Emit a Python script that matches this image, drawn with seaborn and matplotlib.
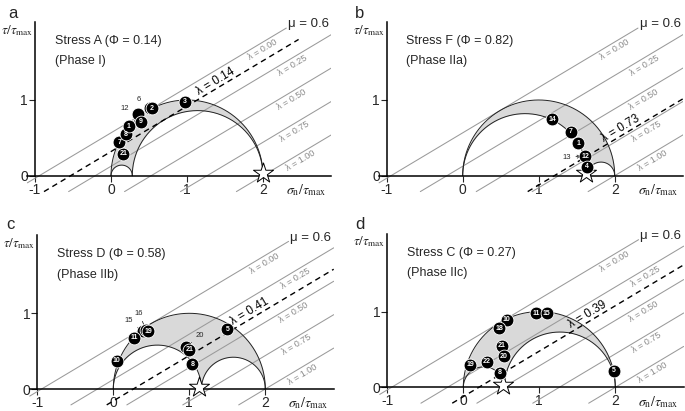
import numpy as np
import matplotlib
matplotlib.use('Agg')
import matplotlib.pyplot as plt
import matplotlib.transforms as mtransforms
import seaborn as sns

sns.set_style('white')
plt.rcParams['font.family'] = ['Liberation Sans', 'DejaVu Sans']
plt.rcParams['mathtext.fontset'] = 'stix'

# ---- data ----
panel_letters = ['a', 'b', 'c', 'd']
stress_names = ['Stress A (Φ = 0.14)', 'Stress F (Φ = 0.82)',
                'Stress D (Φ = 0.58)', 'Stress C (Φ = 0.27)']
phase_names = ['(Phase I)', '(Phase IIa)', '(Phase IIb)', '(Phase IIc)']
phi_values = [0.14, 0.82, 0.58, 0.27]
star_x = [2.0, 1.62, 1.13, 0.52]
best_lambda = [0.14, 0.73, 0.41, 0.39]

mu = 0.6
lambda_levels = [0.0, 0.25, 0.5, 0.75, 1.0]
lambda_text = ['λ = 0.00', 'λ = 0.25', 'λ = 0.50', 'λ = 0.75', 'λ = 1.00']

# numbered fault points (sigma_n/tau_max, tau/tau_max)
a_ids = ['12', '6', '21', '7', '8', '1', '9', '2', '3']
a_x = [0.36, 0.51, 0.16, 0.11, 0.20, 0.235, 0.39, 0.54, 0.97]
a_y = [0.82, 0.89, 0.29, 0.44, 0.55, 0.65, 0.71, 0.89, 0.98]

b_ids = ['14', '7', '1', '12', '4']
b_x = [1.18, 1.42, 1.52, 1.61, 1.63]
b_y = [0.745, 0.58, 0.43, 0.26, 0.12]

c_ids = ['15', '16', '10', '11', '19', '5', '20', '21', '8']
c_x = [0.39, 0.43, 0.045, 0.27, 0.46, 1.50, 0.96, 1.00, 1.04]
c_y = [0.76, 0.78, 0.37, 0.68, 0.76, 0.79, 0.56, 0.52, 0.33]

d_ids = ['11', '15', '10', '18', '21', '20', '22', '19', '8', '5']
d_x = [0.96, 1.10, 0.57, 0.475, 0.51, 0.53, 0.31, 0.09, 0.48, 1.98]
d_y = [0.98, 0.98, 0.89, 0.78, 0.55, 0.41, 0.34, 0.30, 0.19, 0.22]

point_ids = [a_ids, b_ids, c_ids, d_ids]
point_x = [a_x, b_x, c_x, d_x]
point_y = [a_y, b_y, c_y, d_y]

# points hidden below others, labelled with a leader line instead
hidden = [['12', '6'], ['13'], ['15', '16', '20'], []]
hidden_pos = {'13': (1.61, 0.26)}
leader_offsets = {'6': (-8, 6), '12': (-10, 4), '13': (-13, -1),
                  '15': (-10, 8), '16': (-5, 12), '20': (10, 8)}

# ---- layout (pixels of a 685x411 figure) ----
W, H = 685, 411
origins = [(111, 175.7), (462.7, 175.7), (113.3, 389), (463.3, 387.3)]
ux, uy = 76.0, 75.7
xlo, xhi, ylo, yhi = -1.15, 2.9, -0.3, 2.1
letter_pos = [(8, 6), (355, 6), (6, 217), (355, 217)]
lam_label_x = [1.95, 2.35, 2.33, 2.37, 2.45]
best_label_x = [1.42, 2.12, 1.84, 1.68]

fig = plt.figure(figsize=(W / 100, H / 100), dpi=100)

c0 = 1 - np.sqrt(1 + mu ** 2) / mu  # intercept of the line tangent to the Mohr circle
ang = np.degrees(np.arctan(mu))
th = np.arctan(mu * uy / ux)

def intercept(lam):
    return c0 + lam * (2 - c0)

for i in range(4):
    ox, oy = origins[i]
    left = ox + xlo * ux
    top = oy - yhi * uy
    ax = fig.add_axes([left / W, 1 - (top + (yhi - ylo) * uy) / H,
                       (xhi - xlo) * ux / W, (yhi - ylo) * uy / H])
    ax.set_xlim(xlo, xhi)
    ax.set_ylim(ylo, yhi)

    # Mohr circles and shaded band
    s2 = 2 * phi_values[i]
    xx = np.linspace(0, 2, 600)
    top_c = np.sqrt(np.clip(1 - (xx - 1) ** 2, 0, None))
    r1, r2 = s2 / 2, (2 - s2) / 2
    low = np.where(xx < s2,
                   np.sqrt(np.clip(r1 ** 2 - (xx - r1) ** 2, 0, None)),
                   np.sqrt(np.clip(r2 ** 2 - (xx - (s2 + r2)) ** 2, 0, None)))
    ax.fill_between(xx, low, top_c, color='#d9d9d9', lw=0, zorder=1)
    for cc, rr in [(1, 1), (r1, r1), (s2 + r2, r2)]:
        t = np.linspace(0, np.pi, 300)
        ax.plot(cc + rr * np.cos(t), rr * np.sin(t), color='#222222', lw=0.7, zorder=3)

    # friction lines for each lambda
    for lam, txt, lx in zip(lambda_levels, lambda_text, lam_label_x):
        c = intercept(lam)
        x0 = max(c - 0.21 / mu, -1.1)
        x1 = min(c + 1.95 / mu, 2.9)
        ax.plot([x0, x1], [mu * (x0 - c), mu * (x1 - c)], color='#9a9a9a', lw=0.75, zorder=2)
        tr = mtransforms.offset_copy(ax.transData, fig=fig, x=4.8 * np.sin(th),
                                     y=-4.8 * np.cos(th), units='points')
        ax.text(lx, mu * (lx - c), txt, transform=tr, rotation=ang,
                transform_rotates_text=True, rotation_mode='anchor',
                ha='center', va='center', fontsize=6.5, color='#8a8a8a', zorder=5)

    # best-fit dashed line
    c = intercept(best_lambda[i])
    x0 = c - 0.21 / mu
    x1 = min(c + 1.8 / mu, 2.9)
    ax.plot([x0, x1], [mu * (x0 - c), mu * (x1 - c)], color='black', lw=1.0,
            ls=(0, (4, 3)), zorder=3)
    lx = best_label_x[i]
    tr = mtransforms.offset_copy(ax.transData, fig=fig, x=-5 * np.sin(th),
                                 y=5 * np.cos(th), units='points')
    ax.text(lx, mu * (lx - c), 'λ = %.2f' % best_lambda[i], transform=tr, rotation=ang,
            transform_rotates_text=True, rotation_mode='anchor',
            ha='center', va='center', fontsize=8.5, color='black', zorder=5)

    # intermediate stress star (drawn under the fault points)
    sns.scatterplot(x=[star_x[i]], y=[0.03], ax=ax, marker='*', s=230, color='white',
                    edgecolor='black', linewidth=0.7, zorder=5.5, legend=False)

    # hidden points with leader labels
    ids, px, py = point_ids[i], point_x[i], point_y[i]
    for h in hidden[i]:
        if h in ids:
            k = ids.index(h)
            hx, hy = px[k], py[k]
        else:
            hx, hy = hidden_pos[h]
        ax.annotate(h, xy=(hx, hy), xytext=leader_offsets[h], textcoords='offset points',
                    fontsize=5.5, ha='center', va='center', zorder=6,
                    arrowprops=dict(arrowstyle='->' if h == '13' else '-', lw=0.5,
                                    color='black', shrinkA=1, shrinkB=3))

    sns.scatterplot(x=px, y=py, ax=ax, s=85, color='black', edgecolor='white',
                    linewidth=0.6, zorder=6, legend=False)
    for pid, x, y in zip(ids, px, py):
        if pid in hidden[i]:
            continue
        ax.text(x, y, pid, color='white', fontsize=5, fontweight='bold',
                ha='center', va='center', zorder=7)

    # axes
    for sp in ['top', 'right']:
        ax.spines[sp].set_visible(False)
    ax.spines['left'].set_position(('data', -1))
    ax.spines['bottom'].set_position(('data', 0))
    ax.spines['left'].set_bounds(0, 2.03)
    ax.spines['bottom'].set_bounds(-1.1, 2.9)
    for sp in ['left', 'bottom']:
        ax.spines[sp].set_linewidth(1.1)
        ax.spines[sp].set_color('black')
        ax.spines[sp].set_zorder(4)
    ax.set_xticks([-1, 0, 1, 2])
    ax.set_xticklabels(['-1', '0', '1', '2'])
    ax.set_yticks([0, 1])
    ax.tick_params(direction='out', length=4, width=0.8, labelsize=10, pad=1,
                   bottom=True, left=True)
    ax.set_facecolor('none')

    ax.text(2.3, -0.19, r'$\sigma_{\rm n}/\tau_{\rm max}$', ha='left', va='center', fontsize=10)
    ax.text(2.33, 2.0, 'μ = 0.6', ha='left', va='center', fontsize=9.5)
    ax.text(-0.74, 1.78, stress_names[i], ha='left', va='center', fontsize=9)
    ax.text(-0.74, 1.51, phase_names[i], ha='left', va='center', fontsize=9)

    # y label sits just left of the vertical axis
    ylab_x = (ox - ux * 1.0 - 34) / W
    ylab_y = 1 - (oy - 1.92 * uy) / H
    fig.text(max(ylab_x, 0.0015), ylab_y, r'$\tau/\tau_{\rm max}$', ha='left', va='center',
             fontsize=9.5)

    fig.text(letter_pos[i][0] / W, 1 - letter_pos[i][1] / H, panel_letters[i],
             ha='left', va='top', fontsize=12)

fig.savefig('out.png', dpi=100)
